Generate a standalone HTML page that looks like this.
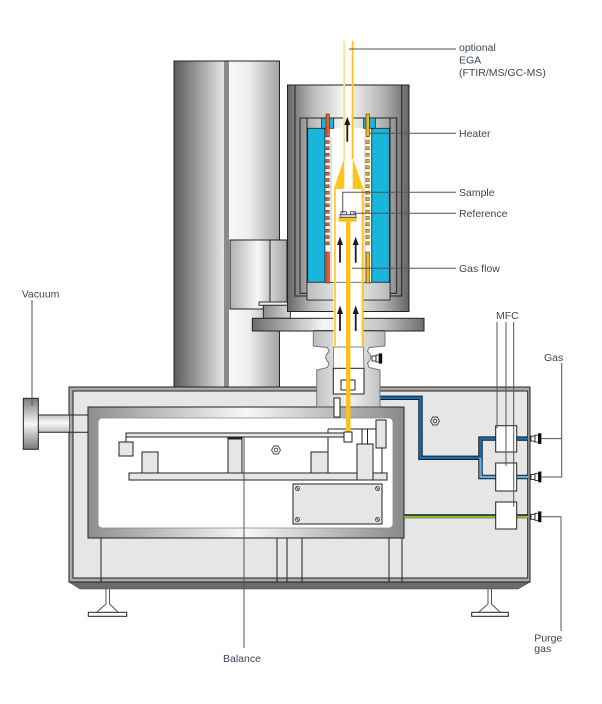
<!DOCTYPE html>
<html><head><meta charset="utf-8">
<style>
html,body{margin:0;padding:0;background:#fff;}
svg{display:block;}
text{font-family:"Liberation Sans",sans-serif;font-size:10.5px;fill:#3c4654;}
</style></head><body>
<svg width="602" height="704" viewBox="0 0 602 704" xmlns="http://www.w3.org/2000/svg">
<defs>
<linearGradient id="gcl" x1="0" y1="0" x2="1" y2="0"><stop offset="0" stop-color="#5b5b5d"/><stop offset="1" stop-color="#e4e4e4"/></linearGradient>
<linearGradient id="gcr" x1="0" y1="0" x2="1" y2="0"><stop offset="0" stop-color="#f7f7f7"/><stop offset="0.4" stop-color="#eeeeee"/><stop offset="1" stop-color="#a2a2a4"/></linearGradient>
<linearGradient id="gbox" x1="0" y1="0" x2="1" y2="0"><stop offset="0" stop-color="#b0b0b0"/><stop offset="0.7" stop-color="#f8f8f8"/><stop offset="1" stop-color="#c4c4c4"/></linearGradient>
<linearGradient id="gbox2" x1="0" y1="0" x2="1" y2="0"><stop offset="0" stop-color="#d4d4d4"/><stop offset="1" stop-color="#a6a6a6"/></linearGradient>
<linearGradient id="gfur" x1="0" y1="0" x2="1" y2="0"><stop offset="0" stop-color="#666"/><stop offset="0.2" stop-color="#b8b8b8"/><stop offset="0.48" stop-color="#fafafa"/><stop offset="0.8" stop-color="#b0b0b0"/><stop offset="1" stop-color="#646464"/></linearGradient>
<linearGradient id="gfl" x1="0" y1="0" x2="1" y2="0"><stop offset="0" stop-color="#6c6c6c"/><stop offset="0.42" stop-color="#f5f5f5"/><stop offset="0.75" stop-color="#c6c6c6"/><stop offset="1" stop-color="#6e6e6e"/></linearGradient>
<linearGradient id="gst" x1="0" y1="0" x2="1" y2="0"><stop offset="0" stop-color="#8c8c8c"/><stop offset="1" stop-color="#d8d8d8"/></linearGradient>
<linearGradient id="glt" x1="0" y1="0" x2="1" y2="0"><stop offset="0" stop-color="#bdbdbd"/><stop offset="0.5" stop-color="#f3f3f3"/><stop offset="1" stop-color="#bababa"/></linearGradient>
<linearGradient id="gfr" x1="0" y1="0" x2="1" y2="0"><stop offset="0" stop-color="#8e8e8e"/><stop offset="0.5" stop-color="#f7f7f7"/><stop offset="1" stop-color="#8a8a8a"/></linearGradient>
<linearGradient id="gv" x1="0" y1="0" x2="0" y2="1"><stop offset="0" stop-color="#7a7a7a"/><stop offset="0.5" stop-color="#f5f5f5"/><stop offset="1" stop-color="#7a7a7a"/></linearGradient>
<linearGradient id="gp" x1="0" y1="0" x2="0" y2="1"><stop offset="0" stop-color="#c4c4c4"/><stop offset="0.45" stop-color="#fafafa"/><stop offset="1" stop-color="#bdbdbd"/></linearGradient>
</defs>
<rect width="602" height="704" fill="#fff"/>

<!-- MAIN BOX -->
<polygon points="69,582 530,582 518,589 80,589" fill="#6b6b6b" stroke="#444" stroke-width="0.6"/>
<rect x="69" y="387" width="461" height="195" fill="#a9a9a9" stroke="#222" stroke-width="1"/>
<rect x="73" y="391" width="454.7" height="187" fill="#e6e6e6" stroke="#222" stroke-width="1"/>

<g stroke="#222" stroke-width="1">
<line x1="101" y1="538" x2="101" y2="582"/>
<line x1="277" y1="538" x2="277" y2="582"/>
<line x1="287" y1="538" x2="287" y2="582"/>
<line x1="302" y1="538" x2="302" y2="582"/>
<line x1="389" y1="538" x2="389" y2="582"/>
<line x1="402" y1="538" x2="402" y2="582"/>
</g>

<rect x="88" y="407" width="316" height="131" fill="url(#gfr)" stroke="#222" stroke-width="1"/>
<rect x="98" y="418" width="295" height="110" rx="4" fill="#fff" stroke="#888" stroke-width="0.8"/>

<g stroke="#222" stroke-width="1" fill="#e6e6e6">
<rect x="129" y="473" width="258" height="7"/>
<rect x="142" y="452" width="16" height="21"/>
<rect x="228" y="438" width="14" height="35"/>
<rect x="311" y="452" width="17" height="21"/>
<line x1="328" y1="429" x2="328" y2="473"/>
<line x1="328" y1="429" x2="377" y2="429"/>
<rect x="126" y="433" width="222" height="4"/>
<line x1="126" y1="437" x2="126" y2="442"/>
<rect x="119" y="442" width="14" height="14"/>
<rect x="362" y="429" width="5.5" height="15" fill="#fff"/>
<rect x="357" y="444" width="16" height="36"/>
<rect x="376" y="420" width="10" height="28"/>
<line x1="382" y1="448" x2="382" y2="473"/>
</g>
<line x1="228" y1="438.5" x2="242" y2="438.5" stroke="#222" stroke-width="2"/>

<rect x="293" y="484" width="89" height="40" fill="#e6e6e6" stroke="#222" stroke-width="1"/>
<g fill="none" stroke="#333" stroke-width="0.8">
<circle cx="297.5" cy="488.5" r="2"/><circle cx="377.5" cy="488.5" r="2"/>
<circle cx="297.5" cy="519.5" r="2"/><circle cx="377.5" cy="519.5" r="2"/>
<line x1="296" y1="487" x2="299" y2="490"/><line x1="376" y1="487" x2="379" y2="490"/>
<line x1="296" y1="518" x2="299" y2="521"/><line x1="376" y1="518" x2="379" y2="521"/>
</g>

<g fill="none" stroke="#444" stroke-width="0.9">
<polygon points="280.5,450 278.2,454 273.8,454 271.5,450 273.8,446 278.2,446"/>
<circle cx="276" cy="450" r="1.8"/>
<polygon points="439.5,421 437.2,425 432.8,425 430.5,421 432.8,417 437.2,417"/>
<circle cx="435" cy="421" r="1.8"/>
</g>

<g fill="none" stroke-linejoin="miter">
<path d="M379,397.8 H420.5 V457.8 H480.5 V438.6 H496" stroke="#1a1a1a" stroke-width="4.4"/>
<path d="M480.5,457.8 V477 H496" stroke="#1a1a1a" stroke-width="4.4"/>
<path d="M379,397.8 H420.5 V457.8 H480.5 V438.6 H496" stroke="#0d72bd" stroke-width="2.4"/>
<path d="M480.5,458 V477 H496" stroke="#5cb4e6" stroke-width="2.4"/>
<line x1="516" y1="438.6" x2="528" y2="438.6" stroke="#1a1a1a" stroke-width="4.4"/>
<line x1="516" y1="438.6" x2="528" y2="438.6" stroke="#0d72bd" stroke-width="2.4"/>
<line x1="516" y1="477" x2="528" y2="477" stroke="#1a1a1a" stroke-width="4.4"/>
<line x1="516" y1="477" x2="528" y2="477" stroke="#5cb4e6" stroke-width="2.4"/>
<line x1="404" y1="516.3" x2="528" y2="516.3" stroke="#1a1a1a" stroke-width="4"/>
<line x1="404" y1="516.8" x2="528" y2="516.8" stroke="#8cc63f" stroke-width="2.2"/>
</g>

<g fill="#fff" stroke="#222" stroke-width="1">
<rect x="495.7" y="425.7" width="21" height="26.3"/>
<rect x="495.7" y="463" width="21" height="28"/>
<rect x="495.7" y="502" width="21" height="27"/>
</g>

<g stroke="#111" stroke-width="0.8">
<g transform="translate(0,438.6)"><rect x="531" y="-2.5" width="4" height="5" fill="#fff"/><rect x="535" y="-3.5" width="3.5" height="7" fill="#fff"/><rect x="538.5" y="-5" width="2.5" height="10" fill="#111"/></g>
<g transform="translate(0,477)"><rect x="531" y="-2.5" width="4" height="5" fill="#fff"/><rect x="535" y="-3.5" width="3.5" height="7" fill="#fff"/><rect x="538.5" y="-5" width="2.5" height="10" fill="#111"/></g>
<g transform="translate(0,516.8)"><rect x="531" y="-2.5" width="4" height="5" fill="#fff"/><rect x="535" y="-3.5" width="3.5" height="7" fill="#fff"/><rect x="538.5" y="-5" width="2.5" height="10" fill="#111"/></g>
</g>

<g stroke="#555" stroke-width="1" fill="none">
<line x1="106" y1="589" x2="106" y2="604"/><line x1="109.5" y1="589" x2="109.5" y2="604"/>
<polyline points="106,604 97,612"/><polyline points="109.5,604 118,612"/>
<line x1="488" y1="589" x2="488" y2="604"/><line x1="491.5" y1="589" x2="491.5" y2="604"/>
<polyline points="488,604 479,612"/><polyline points="491.5,604 500,612"/>
</g>
<rect x="88.3" y="612.3" width="38.4" height="4" fill="#fff" stroke="#222" stroke-width="1"/>
<rect x="471.7" y="612.3" width="36.6" height="4" fill="#fff" stroke="#222" stroke-width="1"/>

<rect x="38.3" y="415" width="30.7" height="17.3" fill="url(#gp)"/>
<g stroke="#222" stroke-width="1">
<line x1="38.3" y1="415" x2="88" y2="415"/>
<line x1="38.3" y1="432.3" x2="88" y2="432.3"/>
</g>
<rect x="23.3" y="398.3" width="15" height="51" fill="url(#gv)" stroke="#222" stroke-width="1"/>

<!-- COLUMN -->
<rect x="174" y="61" width="50" height="326" fill="url(#gcl)"/>
<rect x="224" y="61" width="5" height="326" fill="#8b8b8b"/>
<rect x="229" y="61" width="50.5" height="326" fill="url(#gcr)"/>
<rect x="174" y="61" width="105.5" height="326" fill="none" stroke="#222" stroke-width="1"/>

<rect x="230" y="240" width="40" height="69" fill="url(#gbox)"/>
<rect x="270" y="240" width="17" height="69" fill="url(#gbox2)"/>
<rect x="230" y="240" width="57" height="69" fill="none" stroke="#222" stroke-width="1"/>
<line x1="270" y1="240" x2="270" y2="309" stroke="#222" stroke-width="1"/>
<rect x="259" y="302" width="30" height="3.3" fill="#f0f0f0" stroke="#222" stroke-width="0.9"/>
<rect x="263.3" y="305.3" width="27" height="13" fill="url(#gst)" stroke="#222" stroke-width="0.9"/>

<!-- FURNACE -->
<rect x="287.5" y="85" width="121.5" height="226.5" fill="url(#gfur)" stroke="#222" stroke-width="1"/>
<g stroke="#222" stroke-width="1" fill="none">
<polyline points="295,85 295,296 401.7,296 401.7,85"/>
<rect x="300" y="118" width="96.7" height="175.3"/>
<polyline points="307,118 307,300 390,300 390,118"/>
</g>
<rect x="307.7" y="128.3" width="17.3" height="154" fill="#18b6db" stroke="#222" stroke-width="0.8"/>
<rect x="371.7" y="128.3" width="17.6" height="154" fill="#18b6db" stroke="#222" stroke-width="0.8"/>
<rect x="325" y="128.3" width="46.7" height="154" fill="#fff"/>
<line x1="325" y1="128.3" x2="325" y2="282.3" stroke="#222" stroke-width="0.8"/>
<line x1="371.7" y1="128.3" x2="371.7" y2="282.3" stroke="#222" stroke-width="0.8"/>
<rect x="321.7" y="118" width="12" height="10.3" fill="#18b6db" stroke="#222" stroke-width="0.8"/>
<rect x="363.7" y="118" width="11.6" height="10.3" fill="#18b6db" stroke="#222" stroke-width="0.8"/>
<line x1="331" y1="137" x2="331" y2="282" stroke="#999" stroke-width="0.6"/>
<line x1="365" y1="137" x2="365" y2="282" stroke="#999" stroke-width="0.6"/>
<rect x="307" y="282.3" width="83" height="17.7" fill="url(#glt)" stroke="#222" stroke-width="0.8"/>

<rect x="343.3" y="85.5" width="10" height="74" fill="#fff"/>
<rect x="343.3" y="41" width="1.8" height="118" fill="#fde08a"/>
<rect x="351.7" y="41" width="1.8" height="118" fill="#fcc419"/>
<polygon points="344.3,158 333.7,189 344.3,189" fill="#fcc520"/>
<polygon points="352.7,158 352.7,189 363.5,189" fill="#fcc520"/>

<g stroke="#333" stroke-width="0.6">
<rect x="326" y="114" width="3.3" height="22.7" fill="#ee5a2a"/>
<rect x="366" y="114" width="3.3" height="22.7" fill="#f6b417"/>
<rect x="326" y="252" width="3.3" height="31" fill="#ee5a2a"/>
<rect x="366" y="252" width="3.3" height="31" fill="#f6b417"/>
</g>
<g stroke="#333" stroke-width="0.5" fill="#ee5a2a">
<rect x="326" y="140.5" width="3.3" height="3"/><rect x="326" y="146.8" width="3.3" height="3"/><rect x="326" y="153.2" width="3.3" height="3"/><rect x="326" y="159.5" width="3.3" height="3"/><rect x="326" y="165.8" width="3.3" height="3"/><rect x="326" y="172.2" width="3.3" height="3"/><rect x="326" y="178.5" width="3.3" height="3"/><rect x="326" y="184.8" width="3.3" height="3"/><rect x="326" y="191.2" width="3.3" height="3"/><rect x="326" y="197.5" width="3.3" height="3"/><rect x="326" y="203.8" width="3.3" height="3"/><rect x="326" y="210.2" width="3.3" height="3"/><rect x="326" y="216.5" width="3.3" height="3"/><rect x="326" y="222.8" width="3.3" height="3"/><rect x="326" y="229.2" width="3.3" height="3"/><rect x="326" y="235.5" width="3.3" height="3"/><rect x="326" y="241.8" width="3.3" height="3"/>
</g>
<g stroke="#333" stroke-width="0.5" fill="#f6b417">
<rect x="366" y="140.5" width="3.3" height="3"/><rect x="366" y="146.8" width="3.3" height="3"/><rect x="366" y="153.2" width="3.3" height="3"/><rect x="366" y="159.5" width="3.3" height="3"/><rect x="366" y="165.8" width="3.3" height="3"/><rect x="366" y="172.2" width="3.3" height="3"/><rect x="366" y="178.5" width="3.3" height="3"/><rect x="366" y="184.8" width="3.3" height="3"/><rect x="366" y="191.2" width="3.3" height="3"/><rect x="366" y="197.5" width="3.3" height="3"/><rect x="366" y="203.8" width="3.3" height="3"/><rect x="366" y="210.2" width="3.3" height="3"/><rect x="366" y="216.5" width="3.3" height="3"/><rect x="366" y="222.8" width="3.3" height="3"/><rect x="366" y="229.2" width="3.3" height="3"/><rect x="366" y="235.5" width="3.3" height="3"/><rect x="366" y="241.8" width="3.3" height="3"/>
</g>

<rect x="252.3" y="318.3" width="171.7" height="12.7" fill="url(#gfl)" stroke="#222" stroke-width="1"/>

<path d="M313.3,330.7 H385 V346 L369,347.5 L367.5,351.5 Q374,357 367.5,363 L369,367.5 L380,370 V406.7 H316.7 V370 L327.5,367.5 L329,363 Q322.5,357 329,351.5 L327.5,347.5 L313.3,346 Z" fill="url(#glt)" stroke="#777" stroke-width="1"/>
<line x1="313.3" y1="330.7" x2="385" y2="330.7" stroke="#222" stroke-width="1"/>

<rect x="333.5" y="282.5" width="30" height="64.5" fill="#fff"/>
<polygon points="333.5,347 363.5,347 364,368.5 333.3,368.5" fill="#fff" stroke="#555" stroke-width="0.7"/>
<rect x="333.3" y="368.3" width="30.7" height="25.7" fill="#fff" stroke="#222" stroke-width="1"/>
<rect x="341" y="380" width="14" height="10" fill="#fff" stroke="#222" stroke-width="1"/>
<rect x="334" y="398" width="6" height="19" fill="#fff" stroke="#222" stroke-width="1"/>
<rect x="334" y="189" width="2" height="158" fill="#fdd24a"/>
<rect x="361.7" y="189" width="2" height="158" fill="#fcc419"/>

<g stroke="#111" stroke-width="0.8">
<rect x="372" y="356" width="4" height="5" fill="#fff"/>
<rect x="376" y="355" width="3.2" height="7" fill="#fff"/>
<rect x="379.2" y="353.8" width="2.6" height="9.4" fill="#111"/>
</g>

<rect x="346" y="221.7" width="4.5" height="210.3" fill="#fcc21b"/>
<rect x="338.3" y="217.7" width="18.4" height="4" fill="#fcc21b"/>
<rect x="340" y="214.5" width="16" height="3.2" fill="#cfcfcf" stroke="#333" stroke-width="0.7"/>
<rect x="341" y="211.7" width="5.5" height="3" fill="#e0e0e0" stroke="#333" stroke-width="0.7"/>
<rect x="350.5" y="211.7" width="5" height="3" fill="#e0e0e0" stroke="#333" stroke-width="0.7"/>
<rect x="344" y="432" width="8" height="10" fill="#fff" stroke="#222" stroke-width="1"/>

<g fill="#1a1a1a" stroke="#1a1a1a" stroke-width="1.8">
<line x1="347.3" y1="123" x2="347.3" y2="141.7"/>
<line x1="340" y1="243" x2="340" y2="262.7"/>
<line x1="355.7" y1="243" x2="355.7" y2="262.7"/>
<line x1="340" y1="312" x2="340" y2="331"/>
<line x1="355.7" y1="312" x2="355.7" y2="331"/>
</g>
<g fill="#1a1a1a">
<polygon points="347.3,116.7 344.3,125 350.3,125"/>
<polygon points="340,236.7 337,245 343,245"/>
<polygon points="355.7,236.7 352.7,245 358.7,245"/>
<polygon points="340,305.5 337,314 343,314"/>
<polygon points="355.7,305.5 352.7,314 358.7,314"/>
</g>

<g stroke="#555" stroke-width="1" fill="none">
<line x1="349" y1="49" x2="456" y2="49"/>
<line x1="369" y1="133.3" x2="456" y2="133.3"/>
<polyline points="342.7,213 342.7,192.3 456,192.3"/>
<line x1="353" y1="213.3" x2="456" y2="213.3"/>
<line x1="351.7" y1="268.3" x2="456" y2="268.3"/>
<line x1="32" y1="300" x2="32" y2="406"/>
<line x1="244" y1="437" x2="244" y2="648"/>
<line x1="497" y1="322" x2="497" y2="428.3"/>
<line x1="506" y1="322" x2="506" y2="466"/>
<line x1="513.7" y1="322" x2="513.7" y2="506.7"/>
<polyline points="541,438.6 561.7,438.6"/>
<polyline points="541,477 561.7,477 561.7,363"/>
<polyline points="541,516.8 561,516.8 561,631"/>
</g>

<text x="459" y="51">optional</text>
<text x="459" y="63.5">EGA</text>
<text x="459" y="76">(FTIR/MS/GC-MS)</text>
<text x="459" y="137">Heater</text>
<text x="459" y="196">Sample</text>
<text x="459" y="217">Reference</text>
<text x="459" y="272">Gas flow</text>
<text x="21.7" y="297.5">Vacuum</text>
<text x="496" y="319">MFC</text>
<text x="544" y="361">Gas</text>
<text x="223" y="662">Balance</text>
<text x="534.3" y="641.5">Purge</text>
<text x="534.3" y="652">gas</text>
</svg>
</body></html>
